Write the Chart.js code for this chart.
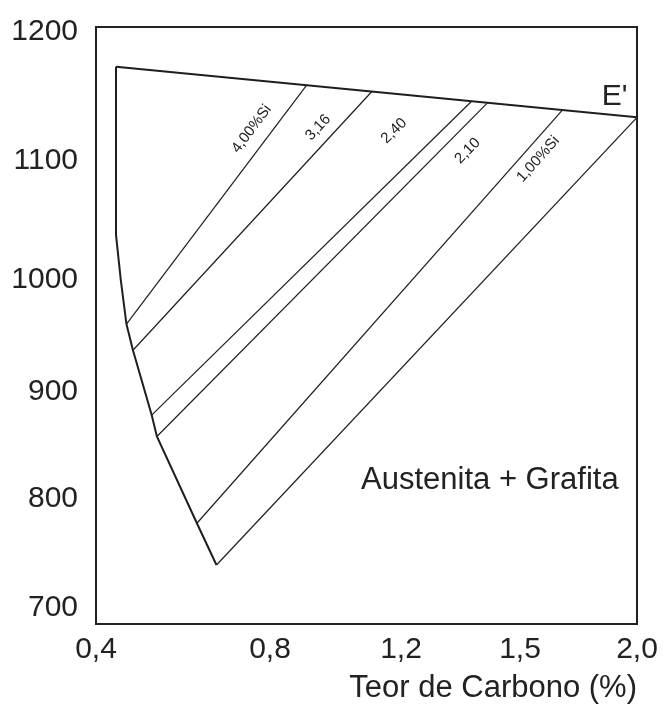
<!DOCTYPE html>
<html>
<head>
<meta charset="utf-8">
<script src="https://cdn.jsdelivr.net/npm/chart.js@4.4.1/dist/chart.umd.min.js"></script>
<style>
  html, body { margin: 0; padding: 0; background: #fff; }
  canvas { display: block; }
</style>
</head>
<body>
<canvas id="chart" width="663" height="704"></canvas>
<script>
const xTicks = [0.4, 0.8, 1.2, 1.5, 2.0];
const yTicks = [700, 800, 900, 1000, 1100, 1200];

// eutectic line, from the upper left corner to E'
const eutecticC = [0.446, 2.0];
const eutecticT = [1173, 1133.6];

// left limit of the austenite + graphite field
const boundaryC = [0.446, 0.446, 0.457, 0.470, 0.485, 0.528, 0.540, 0.632, 0.677];
const boundaryT = [1173, 1037.7, 1000, 960.5, 937, 878, 858, 777.4, 739.3];

// constant silicon lines: low end on the boundary, high end on the eutectic line
const siLabels = ['4,00%Si', '3,16', '2,40', '2,10', '1,00%Si', ''];
const siLowC = [0.470, 0.485, 0.528, 0.540, 0.632, 0.677];
const siLowT = [960.5, 937, 878, 858, 777.4, 739.3];
const siHighC = [0.912, 1.111, 1.378, 1.418, 1.681, 2.0];
const siHighT = [1158.6, 1153.7, 1146.1, 1144.9, 1139.2, 1133.6];
const siLabelC = [0.758, 0.947, 1.179, 1.368, 1.578];
const siLabelT = [1124.5, 1125.7, 1123.1, 1107.5, 1101];

const FONT = '"Liberation Sans", Arial, sans-serif';
Chart.defaults.font.family = FONT;
Chart.defaults.color = '#222';

// the axes of the diagram are not evenly divided: value -> fraction of the axis
const axisStops = {
  x: [[0.4, 0], [0.8, 0.3216], [1.2, 0.5638], [1.5, 0.7837], [2.0, 1]],
  y: [[685, 0], [700, 0.0268], [800, 0.2102], [900, 0.3894], [1000, 0.5762],
      [1100, 0.7764], [1200, 0.9916], [1204, 1]]
};

function interp(stops, v, from, to) {
  for (let i = 1; i < stops.length; i++) {
    if (v <= stops[i][from] || i === stops.length - 1) {
      const a = stops[i - 1], b = stops[i];
      return a[to] + (v - a[from]) * (b[to] - a[to]) / (b[from] - a[from]);
    }
  }
}

class PiecewiseScale extends Chart.LinearScale {
  static id = 'piecewise';
  static defaults = {};
  getPixelForValue(value) {
    if (value === null || value === undefined) return NaN;
    return this.getPixelForDecimal(interp(axisStops[this.id], value, 0, 1));
  }
  getValueForPixel(pixel) {
    return interp(axisStops[this.id], this.getDecimalForPixel(pixel), 1, 0);
  }
}
Chart.register(PiecewiseScale);

const notes = {
  id: 'notes',
  beforeDatasetsDraw(chart) {
    const { ctx, chartArea: a } = chart;
    ctx.save();
    ctx.strokeStyle = '#222';
    ctx.lineWidth = 2;
    ctx.strokeRect(a.left, a.top, a.right - a.left, a.bottom - a.top);
    ctx.restore();
  },
  afterDatasetsDraw(chart) {
    const { ctx, scales: { x, y } } = chart;
    ctx.save();
    ctx.fillStyle = '#222';
    ctx.textAlign = 'center';
    ctx.textBaseline = 'middle';
    ctx.font = '15px ' + FONT;
    siLabelC.forEach((c, i) => {
      const ang = Math.atan2(
        y.getPixelForValue(siHighT[i]) - y.getPixelForValue(siLowT[i]),
        x.getPixelForValue(siHighC[i]) - x.getPixelForValue(siLowC[i]));
      ctx.save();
      ctx.translate(x.getPixelForValue(c), y.getPixelForValue(siLabelT[i]));
      ctx.rotate(ang);
      ctx.fillText(siLabels[i], 0, 0);
      ctx.restore();
    });
    ctx.font = '30px ' + FONT;
    ctx.fillText("E'", x.getPixelForValue(1.904), y.getPixelForValue(1149.8));
    ctx.font = '31px ' + FONT;
    ctx.fillText('Austenita + Grafita', x.getPixelForValue(1.424), y.getPixelForValue(817.3));
    ctx.restore();
  }
};

const pts = (cs, ts) => cs.map((c, i) => ({ x: c, y: ts[i] }));

const datasets = [
  { data: pts(eutecticC, eutecticT), borderWidth: 2 },
  { data: pts(boundaryC, boundaryT), borderWidth: 2 },
  ...siLowC.map((c, i) => ({
    data: [{ x: c, y: siLowT[i] }, { x: siHighC[i], y: siHighT[i] }],
    borderWidth: 1.2
  }))
].map(d => Object.assign(d, {
  showLine: true,
  borderColor: '#1e1e1e',
  pointRadius: 0,
  fill: false,
  tension: 0
}));

new Chart(document.getElementById('chart'), {
  type: 'scatter',
  data: { datasets },
  plugins: [notes],
  options: {
    responsive: false,
    animation: false,
    devicePixelRatio: 1,
    layout: { padding: { top: 27, right: 26, bottom: 0, left: 0 } },
    plugins: { legend: { display: false }, tooltip: { enabled: false } },
    scales: {
      x: {
        type: 'piecewise',
        min: 0.4,
        max: 2.0,
        grid: { display: false, drawTicks: false },
        border: { display: false },
        afterBuildTicks: s => { s.ticks = xTicks.map(v => ({ value: v })); },
        afterFit: s => { s.height = 80; s.paddingLeft = 0; s.paddingRight = 0; },
        ticks: {
          padding: 8,
          maxRotation: 0,
          autoSkip: false,
          font: { size: 30 },
          callback: v => v.toFixed(1).replace('.', ',')
        },
        title: {
          display: true,
          text: 'Teor de Carbono (%)',
          align: 'end',
          padding: { top: 0, bottom: 0 },
          font: { size: 31, lineHeight: 1 }
        }
      },
      y: {
        type: 'piecewise',
        min: 685,
        max: 1204,
        grid: { display: false, drawTicks: false },
        border: { display: false },
        afterBuildTicks: s => { s.ticks = yTicks.map(v => ({ value: v })); },
        afterFit: s => { s.width = 96; s.paddingTop = 0; s.paddingBottom = 0; },
        ticks: {
          padding: 18,
          autoSkip: false,
          font: { size: 30 },
          callback: v => String(v)
        }
      }
    }
  }
});
</script>
</body>
</html>
